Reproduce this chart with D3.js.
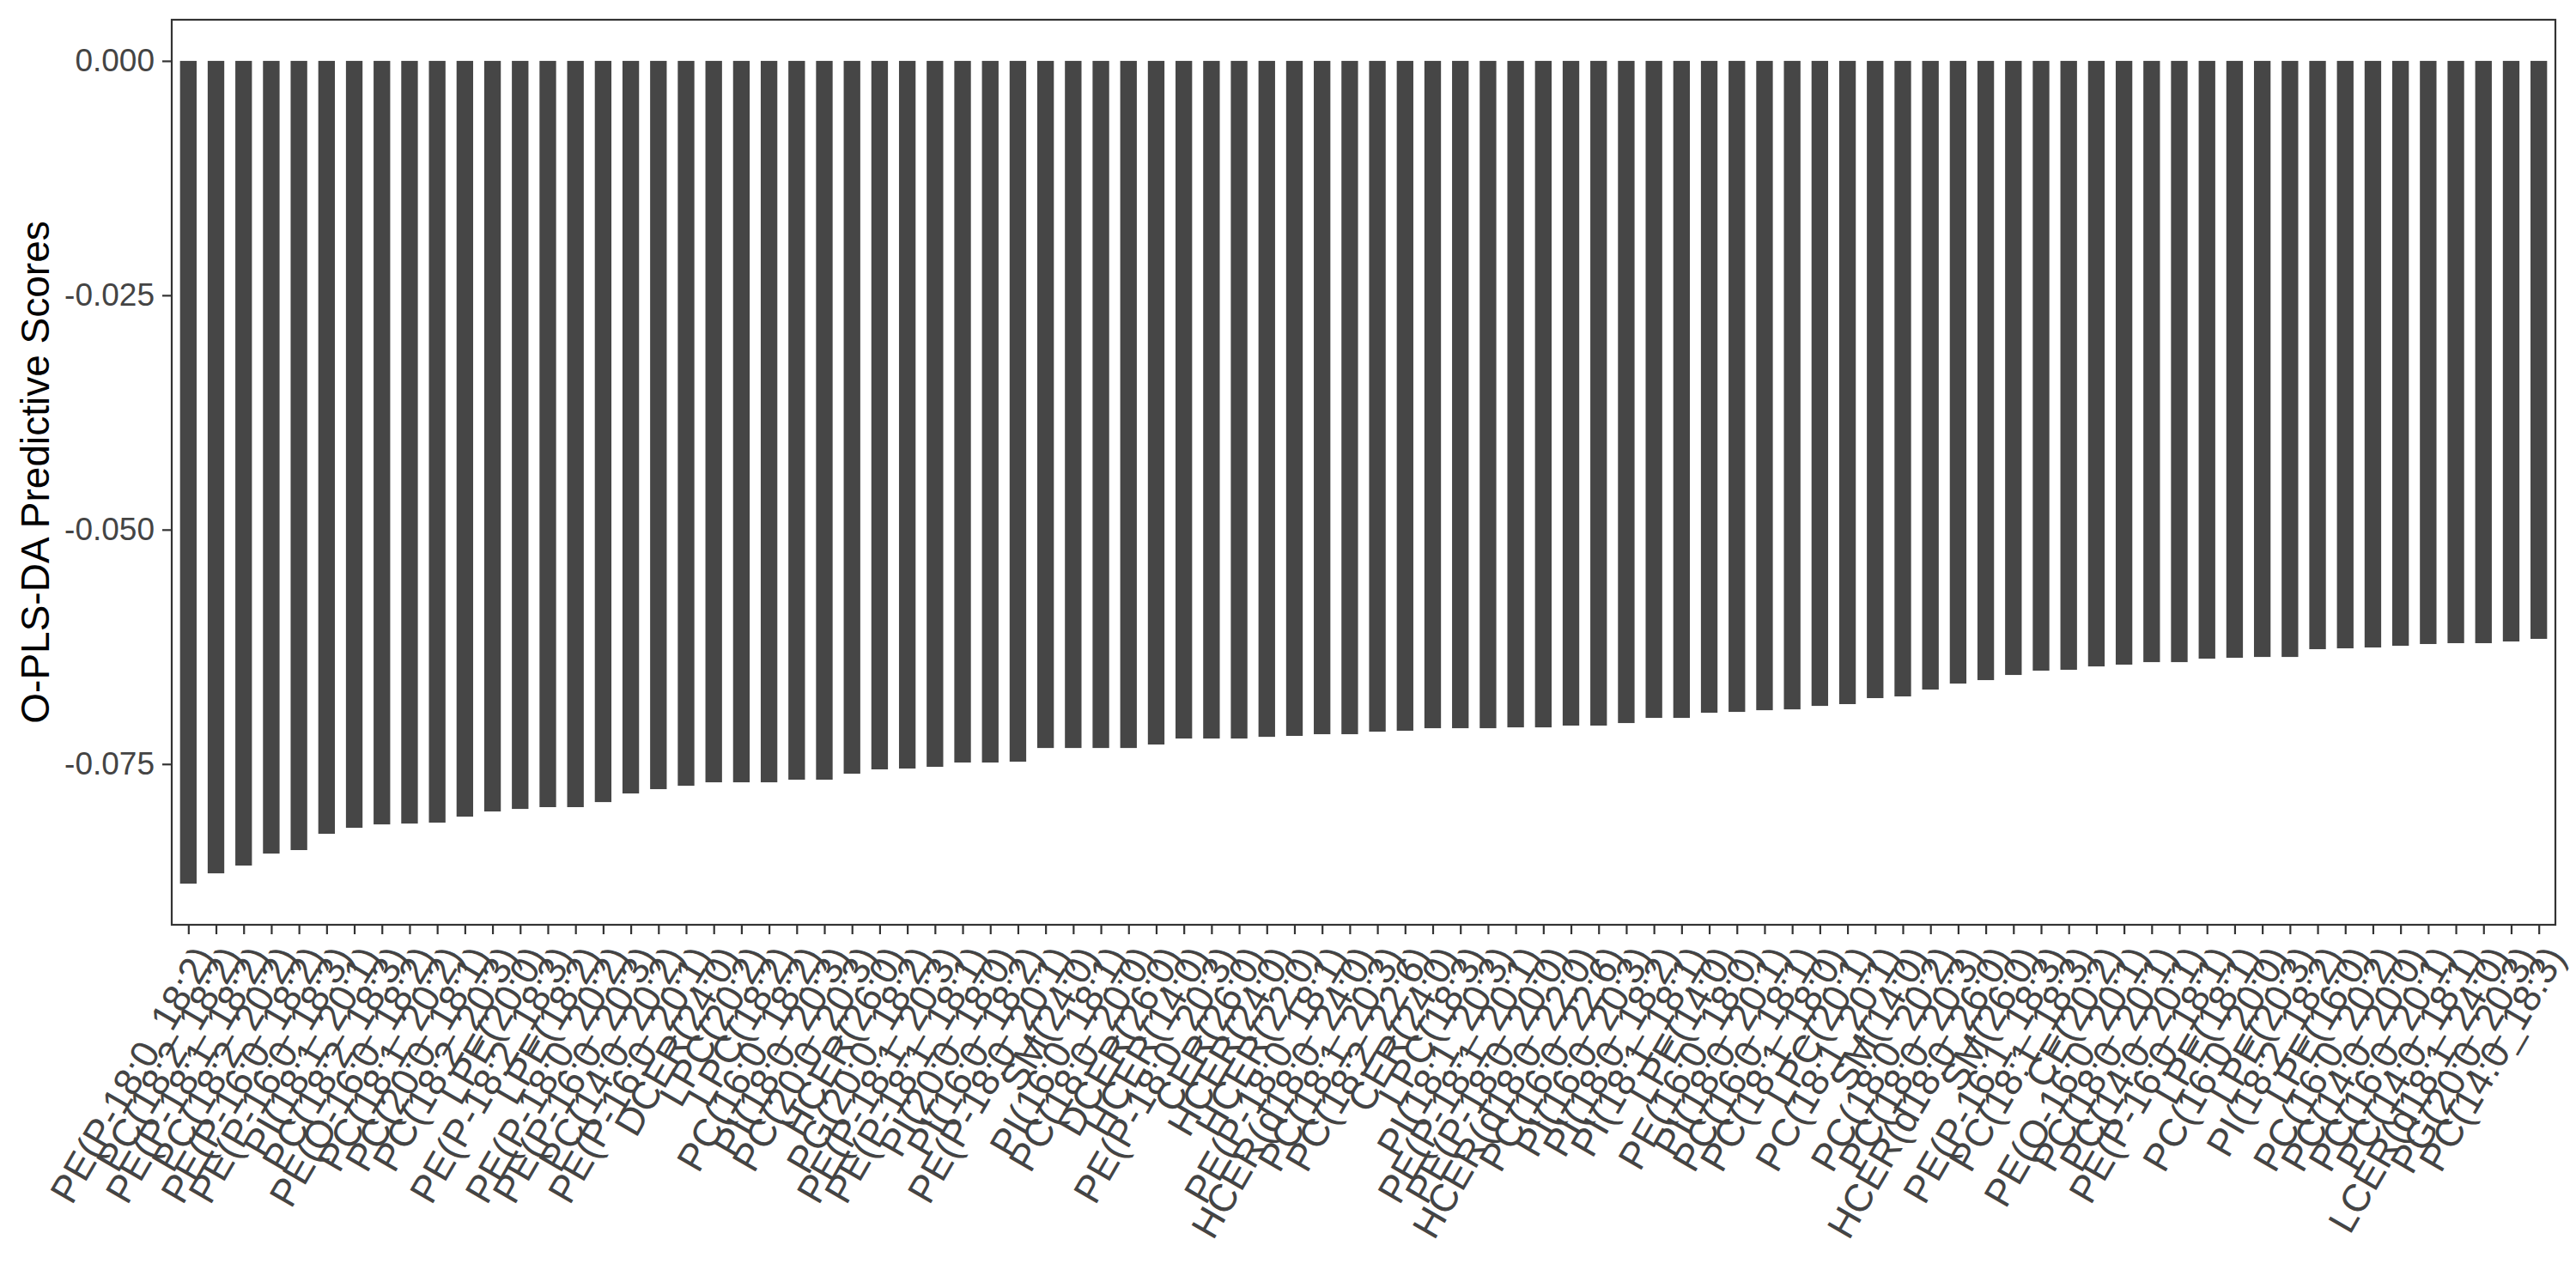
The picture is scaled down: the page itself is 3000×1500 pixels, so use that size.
<!DOCTYPE html>
<html>
<head>
<meta charset="utf-8">
<script src="https://cdn.jsdelivr.net/npm/d3@7"></script>
<style>
  html, body { margin: 0; padding: 0; background: #ffffff; }
  svg { display: block; }
</style>
</head>
<body>
<script>
// ---- data ----
const lipids = [
  "PE(P-18:0_18:2)", "PC(18:2_18:2)", "PE(P-18:1_18:2)", "PC(18:2_20:2)", "PE(P-16:0_18:2)",
  "PE(P-16:0_18:3)", "PI(18:1_20:1)", "PC(18:2_18:3)", "PE(O-16:0_18:2)", "PC(18:1_20:2)",
  "PC(20:0_18:1)", "PC(18:2_20:3)", "LPE(20:0)", "PE(P-18:2_18:3)", "LPE(18:2)",
  "PE(P-18:0_20:2)", "PE(P-16:0_20:3)", "PC(14:0_20:2)", "PE(P-16:0_20:1)", "DCER(24:0)",
  "LPC(20:2)", "LPC(18:2)", "PC(16:0_18:2)", "PI(18:0_20:3)", "PC(20:0_20:3)",
  "HCER(26:0)", "PG(20:0_18:2)", "PE(P-18:1_20:3)", "PE(P-18:1_18:1)", "PI(20:0_18:0)",
  "PI(16:0_18:2)", "PE(P-18:0_20:1)", "SM(24:0)", "PI(16:0_18:1)", "PC(18:0_20:0)",
  "DCER(26:0)", "HCER(14:0)", "PE(P-18:0_20:3)", "CER(26:0)", "HCER(24:0)",
  "HCER(22:0)", "PE(P-18:0_18:1)", "HCER(d18:0_24:0)", "PC(18:1_20:3)", "PC(18:2_22:6)",
  "CER(24:0)", "LPC(18:3)", "PI(18:1_20:3)", "PE(P-18:1_20:1)", "PE(P-18:0_20:0)",
  "HCER(d18:0_22:0)", "PC(16:0_22:6)", "PI(16:0_20:3)", "PI(18:0_18:2)", "PI(18:1_18:1)",
  "LPE(14:0)", "PE(16:0_18:0)", "PI(18:0_20:1)", "PC(16:0_18:1)", "PC(18:1_18:0)",
  "LPC(20:1)", "PC(18:1_20:1)", "SM(14:0)", "PC(18:0_20:2)", "PC(18:0_20:3)",
  "HCER(d18:0_26:0)", "SM(26:0)", "PE(P-16:1_18:3)", "PC(18:1_18:3)", "CE(20:2)",
  "PE(O-16:0_20:1)", "PC(18:0_20:1)", "PC(14:0_20:1)", "PE(P-16:0_18:1)", "LPE(18:1)",
  "PC(16:0_20:0)", "LPE(20:3)", "PI(18:2_18:2)", "LPE(16:0)", "PC(16:0_20:2)",
  "PC(14:0_20:0)", "PC(16:0_20:1)", "PC(14:0_18:1)", "LCER(d18:1_24:0)", "PG(20:0_20:3)",
  "PC(14:0_18:3)"
];

const scores = [
  -0.08776, -0.08666, -0.08583, -0.08455, -0.08418,
  -0.08244, -0.08180, -0.08144, -0.08135, -0.08125,
  -0.08061, -0.08006, -0.07979, -0.07960, -0.07960,
  -0.07906, -0.07814, -0.07768, -0.07732, -0.07695,
  -0.07695, -0.07695, -0.07667, -0.07667, -0.07603,
  -0.07557, -0.07548, -0.07530, -0.07484, -0.07484,
  -0.07475, -0.07329, -0.07329, -0.07329, -0.07329,
  -0.07292, -0.07228, -0.07228, -0.07228, -0.07210,
  -0.07200, -0.07182, -0.07182, -0.07155, -0.07145,
  -0.07118, -0.07118, -0.07118, -0.07109, -0.07109,
  -0.07090, -0.07090, -0.07063, -0.07008, -0.07008,
  -0.06953, -0.06944, -0.06926, -0.06917, -0.06880,
  -0.06861, -0.06797, -0.06779, -0.06706, -0.06642,
  -0.06605, -0.06550, -0.06504, -0.06495, -0.06459,
  -0.06440, -0.06413, -0.06413, -0.06376, -0.06367,
  -0.06358, -0.06358, -0.06275, -0.06266, -0.06257,
  -0.06239, -0.06220, -0.06211, -0.06211, -0.06193,
  -0.06165
];

const yTickValues = [0, -0.025, -0.05, -0.075];
const yTitle = "O-PLS-DA Predictive Scores";

// ---- layout ----
const W = 3000, H = 1500;
const panel = { left: 200, right: 2976, top: 23, bottom: 1077 };
const FONT = "'Liberation Sans', Arial, Helvetica, sans-serif";
const TEXT_COL = "#444444";

const svg = d3.select("body").append("svg")
  .attr("width", W).attr("height", H)
  .attr("viewBox", `0 0 ${W} ${H}`);

svg.append("rect").attr("width", W).attr("height", H).attr("fill", "#ffffff");

const idx = d3.range(lipids.length);
const x = d3.scalePoint()
  .domain(idx)
  .range([panel.left, panel.right])
  .padding(0.6);

const minV = d3.min(scores);
const pad = 0.05 * (0 - minV);
const y = d3.scaleLinear()
  .domain([minV - pad, 0 + pad])
  .range([panel.bottom, panel.top]);

const barW = x.step() * 0.6;

// bars
svg.append("g").selectAll("rect")
  .data(idx)
  .join("rect")
  .attr("x", i => x(i) - barW / 2)
  .attr("y", i => Math.min(y(0), y(scores[i])))
  .attr("width", barW)
  .attr("height", i => Math.abs(y(scores[i]) - y(0)))
  .attr("fill", "#464646");

// panel border
svg.append("rect")
  .attr("x", panel.left).attr("y", panel.top)
  .attr("width", panel.right - panel.left)
  .attr("height", panel.bottom - panel.top)
  .attr("fill", "none")
  .attr("stroke", "#333333")
  .attr("stroke-width", 2.2);

// y axis
const yAxis = d3.axisLeft(y)
  .tickValues(yTickValues)
  .tickFormat(d => d.toFixed(3))
  .tickSize(11)
  .tickPadding(9)
  .tickSizeOuter(0);

const gy = svg.append("g")
  .attr("transform", `translate(${panel.left},0)`)
  .call(yAxis);
gy.select(".domain").remove();
gy.selectAll(".tick line").attr("stroke", "#333333").attr("stroke-width", 2.2);
gy.selectAll(".tick text")
  .attr("fill", TEXT_COL)
  .style("font-family", FONT)
  .style("font-size", "37px");

// x axis
const xAxis = d3.axisBottom(x)
  .tickFormat(i => lipids[i])
  .tickSize(11)
  .tickSizeOuter(0);

const gx = svg.append("g")
  .attr("transform", `translate(0,${panel.bottom})`)
  .call(xAxis);
gx.select(".domain").remove();
gx.selectAll(".tick line").attr("stroke", "#333333").attr("stroke-width", 2.2);
gx.selectAll(".tick text")
  .attr("x", null).attr("y", null)
  .attr("dy", "0.76em")
  .attr("transform", "translate(2,20) rotate(-60)")
  .attr("text-anchor", "end")
  .attr("fill", TEXT_COL)
  .style("font-family", FONT)
  .style("font-size", "45px");

// y title
svg.append("text")
  .attr("transform", `translate(57,${(panel.top + panel.bottom) / 2}) rotate(-90)`)
  .attr("text-anchor", "middle")
  .attr("fill", "#000000")
  .style("font-family", FONT)
  .style("font-size", "46px")
  .text(yTitle);
</script>
</body>
</html>
